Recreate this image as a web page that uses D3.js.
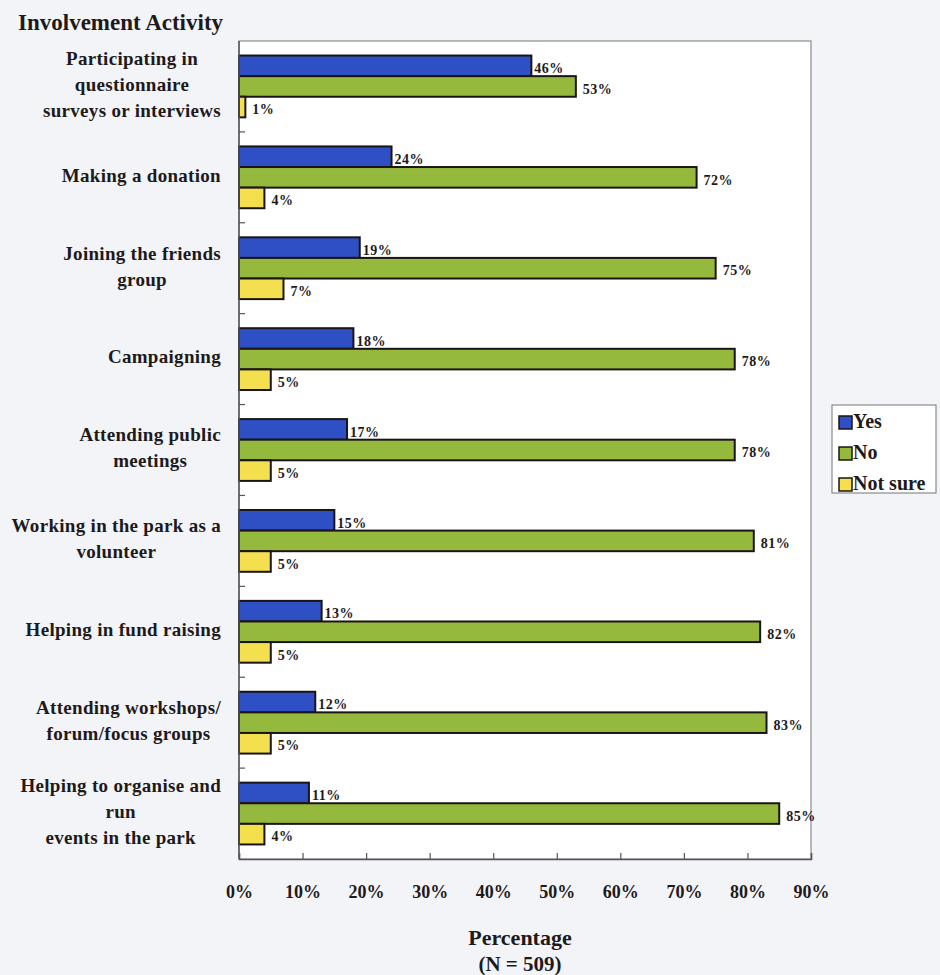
<!DOCTYPE html>
<html>
<head>
<meta charset="utf-8">
<script src="https://cdn.jsdelivr.net/npm/d3@7"></script>
<style>
  html, body { margin: 0; padding: 0; background: #f3f4f7; }
  svg { display: block; }
  text { font-family: "Liberation Serif", "Times New Roman", serif; font-weight: bold; fill: #1e1a1c; }
</style>
</head>
<body>
<svg id="chart" width="940" height="975"></svg>
<script>
// ---- data ----
const categories = [
  ["Participating in", "questionnaire", "surveys or interviews"],
  ["Making a donation"],
  ["Joining the friends", "group"],
  ["Campaigning"],
  ["Attending public", "meetings"],
  ["Working in the park as a", "volunteer"],
  ["Helping in fund raising"],
  ["Attending workshops/", "forum/focus groups"],
  ["Helping to organise and", "run", "events in the park"]
];
const seriesNames = ["Yes", "No", "Not sure"];
const yesValues = [46, 24, 19, 18, 17, 15, 13, 12, 11];
const noValues = [53, 72, 75, 78, 78, 81, 82, 83, 85];
const notSureValues = [1, 4, 7, 5, 5, 5, 5, 5, 4];
const xTicks = [0, 10, 20, 30, 40, 50, 60, 70, 80, 90];
const colors = ["#2f4fc4", "#95b93c", "#f4e04e"];

const svg = d3.select("#chart");
const plot = { left: 239, right: 811, top: 41, bottom: 859 };

const x = d3.scaleLinear().domain([0, 90]).range([plot.left, plot.right]);
const y = d3.scaleBand().domain(d3.range(categories.length))
  .range([plot.top, plot.bottom]).paddingInner(0.32).paddingOuter(0.16);
const ySub = d3.scaleBand().domain(d3.range(3)).range([0, y.bandwidth()]);

const allSeries = [yesValues, noValues, notSureValues];

// plot background + border
svg.append("rect")
  .attr("x", plot.left).attr("y", plot.top)
  .attr("width", plot.right - plot.left).attr("height", plot.bottom - plot.top)
  .attr("fill", "#ffffff").attr("stroke", "#8a8a90").attr("stroke-width", 1.2);

// title
svg.append("text").attr("x", 18).attr("y", 30)
  .style("font-size", "23px").text("Involvement Activity");

// bars
categories.forEach((cat, i) => {
  const g = svg.append("g").attr("transform", `translate(0,${y(i)})`);
  allSeries.forEach((vals, s) => {
    g.append("rect")
      .attr("x", x(0)).attr("y", ySub(s))
      .attr("width", x(vals[i]) - x(0)).attr("height", ySub.bandwidth())
      .attr("fill", colors[s]).attr("stroke", "#1b1416").attr("stroke-width", 2);
  });
  allSeries.forEach((vals, s) => {
    g.append("text")
      .attr("x", x(vals[i]) + (s === 0 ? 3 : 7))
      .attr("y", ySub(s) + ySub.bandwidth() / 2 + 4)
      .attr("dominant-baseline", "middle")
      .style("font-size", "14px").style("letter-spacing", "0.5px")
      .text(vals[i] + "%");
  });
});

// y axis line + ticks between categories
svg.append("line").attr("x1", plot.left).attr("x2", plot.left)
  .attr("y1", plot.top).attr("y2", plot.bottom)
  .attr("stroke", "#55555c").attr("stroke-width", 1.5);
d3.range(1, categories.length).forEach(i => {
  const yy = y(i) - y.step() * y.paddingInner() / 2;
  svg.append("line").attr("x1", plot.left).attr("x2", plot.left + 6)
    .attr("y1", yy).attr("y2", yy).attr("stroke", "#55555c").attr("stroke-width", 1.2);
});

// x axis
const xAxis = d3.axisBottom(x).tickValues(xTicks).tickSize(-6).tickPadding(26)
  .tickFormat(d => d + "%");
const gx = svg.append("g").attr("transform", `translate(0,${plot.bottom})`).call(xAxis);
gx.select(".domain").attr("stroke", "#55555c").attr("stroke-width", 1.5);
gx.selectAll(".tick line").attr("stroke", "#55555c").attr("stroke-width", 1.2);
gx.selectAll(".tick text").style("font-size", "18px")
  .style("font-family", '"Liberation Serif", serif').style("font-weight", "bold")
  .attr("fill", "#1e1a1c");

// category labels (centered block, right-aligned at x=221)
const labelRight = 221, lineH = 26;
categories.forEach((lines, i) => {
  const cy = y(i) + y.bandwidth() / 2;
  const t = svg.append("text").style("font-size", "19px").style("letter-spacing", "0.3px")
    .attr("text-anchor", "middle");
  const spans = lines.map((ln, k) => t.append("tspan").text(ln)
    .attr("y", cy + (k - (lines.length - 1) / 2) * lineH)
    .attr("dominant-baseline", "middle"));
  const maxW = d3.max(spans, sp => sp.node().getComputedTextLength());
  spans.forEach(sp => sp.attr("x", labelRight - maxW / 2));
});

// axis title
svg.append("text").attr("x", 520).attr("y", 945).attr("text-anchor", "middle")
  .style("font-size", "22px").text("Percentage");
svg.append("text").attr("x", 520).attr("y", 971).attr("text-anchor", "middle")
  .style("font-size", "21px").text("(N = 509)");

// legend
const lg = svg.append("g").attr("transform", "translate(832,405)");
lg.append("rect").attr("width", 104).attr("height", 88)
  .attr("fill", "#ffffff").attr("stroke", "#8a8a90").attr("stroke-width", 1.2);
seriesNames.forEach((nm, s) => {
  const cy = 17 + s * 31;
  lg.append("rect").attr("x", 7).attr("y", cy - 6).attr("width", 13).attr("height", 13)
    .attr("fill", colors[s]).attr("stroke", "#1b1416").attr("stroke-width", 1.5);
  lg.append("text").attr("x", 21).attr("y", cy + 1).attr("dominant-baseline", "middle")
    .style("font-size", "20px").text(nm);
});
</script>
</body>
</html>
